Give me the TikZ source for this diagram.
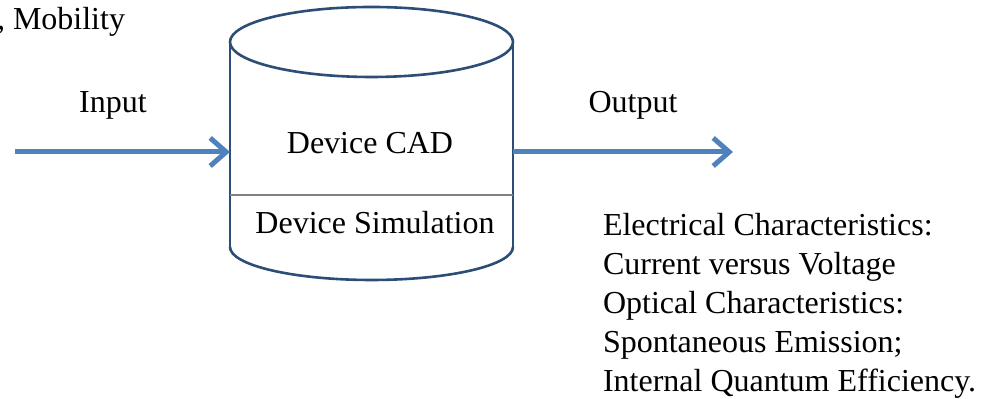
\documentclass[tikz,border=0pt]{standalone}
\usepackage{fontspec}
\setmainfont{Liberation Serif}
\usepackage{tikz}
\usetikzlibrary{calc,arrows.meta,positioning}

\definecolor{flowblue}{RGB}{79,129,189}
\definecolor{edgeblue}{RGB}{44,77,117}
\definecolor{divgray}{RGB}{128,128,128}

\begin{document}
\begin{tikzpicture}[x=0.5pt,y=0.5pt,
    txt/.style={inner sep=0pt,outer sep=0pt,font=\fontsize{16}{19.6}\selectfont},
    flow/.style={draw=flowblue,line width=2.5pt,
      -{Straight Barb[length=8pt,width=14pt]}},
    shell/.style={draw=edgeblue,line width=1.3pt}]

% the picture is measured in pixels of the 998x399 original
\useasboundingbox (0,0) rectangle (998,399);

% body of the cylinder, between top ellipse and bottom arc
\node[inner sep=0pt,outer sep=0pt,minimum width=141.5pt,minimum height=102.5pt]
  (dev) at (371.5,254.5) {};

\fill[white] (dev.south west) -- (dev.north west) -- (dev.north east)
  -- (dev.south east) arc (0:-180:141.5 and 33) -- cycle;
\draw[shell] (dev.south west) -- (dev.north west);
\draw[shell] (dev.south east) -- (dev.north east);
\draw[shell] (dev.south east) arc (0:-180:141.5 and 33);
\draw[shell] (dev.north) ellipse (141.5 and 35);
\draw[divgray,line width=0.8pt] ($(dev.west)+(0,-50.5)$) -- ($(dev.east)+(0,-50.5)$);

\node[txt] (cad) at (370,256) {Device CAD};
\node[txt] (sim) at (375,176) {Device Simulation};

% flow in and out
\coordinate (src) at (15,247);
\coordinate (dst) at (733,247);
\draw[flow] (src) -- (src -| dev.west);
\draw[flow] (dst -| dev.east) -- (dst);

\node[txt] (inp) at (113,294) {Input};
\node[txt] (outp) at (633,294) {Output};

\node[txt,anchor=west] (mob) at (-3,377) {, Mobility};

\node[txt,anchor=north west,align=left] (res) at (603,186)
  {Electrical Characteristics:\\
   Current versus Voltage\\
   Optical Characteristics:\\
   Spontaneous Emission;\\
   Internal Quantum Efficiency.};
\end{tikzpicture}
\end{document}
